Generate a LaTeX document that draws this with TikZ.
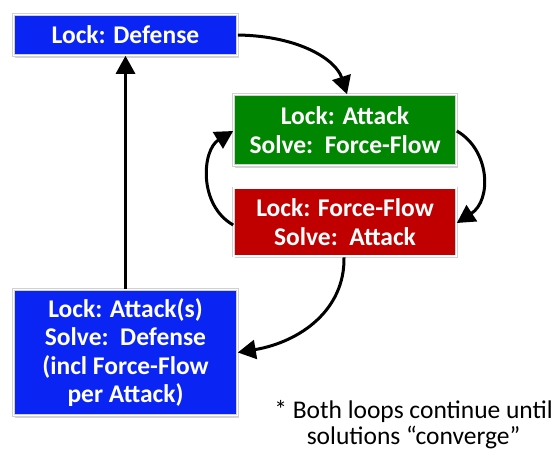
\documentclass[tikz,border=0pt]{standalone}
\usepackage{fontspec}
\setmainfont{Carlito}
\usetikzlibrary{arrows.meta,shadows}
\definecolor{boxblue}{RGB}{10,36,244}
\definecolor{boxgreen}{RGB}{0,134,0}
\definecolor{boxred}{RGB}{192,0,0}
\tikzset{
  blk/.style={rectangle, draw=black!18, double=white, double distance=1.6pt,
    line width=0.6pt, text=white, font=\bfseries\fontsize{25.5}{28.5}\selectfont,
    align=center, inner sep=0pt,
    drop shadow={opacity=0.35, shadow xshift=1.5pt, shadow yshift=-2pt}},
  flow/.style={line width=3pt, -{Triangle[length=18pt,width=19pt]}}
}
\begin{document}
\begin{tikzpicture}[x=1pt,y=-1pt]
\useasboundingbox (0,0) rectangle (556,450);
\node[blk, fill=boxblue, minimum width=224pt, minimum height=41pt] (def) at (125.5,35) {Lock: Defense};
\node[blk, fill=boxgreen, minimum width=223pt, minimum height=71pt] (att) at (345,130) {Lock: Attack\\Solve:\ \ Force-Flow};
\node[blk, fill=boxred, minimum width=223pt, minimum height=68pt] (ff) at (345,222) {Lock: Force-Flow\\Solve:\ \ Attack};
\node[blk, fill=boxblue, minimum width=224pt, minimum height=126pt] (sol) at (125.5,352.5) {Lock: Attack(s)\\Solve:\ \ Defense\\(incl Force-Flow\\per Attack)};
\node[font=\fontsize{25.5}{26.5}\selectfont, align=center, inner sep=0pt, anchor=north east] (note) at (553,400) {* Both loops continue until\\solutions “converge”};
% outer loop
\draw[flow] (def.east) .. controls (300,36) and (336,60) .. ([xshift=2pt]att.north);
\draw[flow] ([xshift=-1pt,yshift=-1pt]ff.south) .. controls (345,310) and (300,342) .. ([yshift=0pt]sol.east);
\draw[flow] (sol.north) -- (def.south);
% inner loop
\draw[flow] ([yshift=-1pt]att.east) .. controls (490,150) and (492,200) .. ([yshift=-1pt]ff.east);
\draw[flow] ([yshift=-3pt]ff.west) .. controls (198,205) and (202,150) .. ([yshift=-1pt]att.west);
\end{tikzpicture}
\end{document}
